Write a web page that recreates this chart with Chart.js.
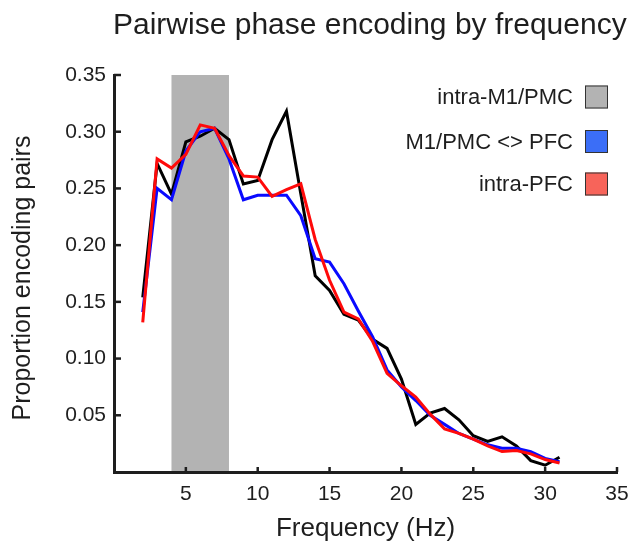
<!DOCTYPE html>
<html>
<head>
<meta charset="utf-8">
<script src="https://cdn.jsdelivr.net/npm/chart.js@4.4.1/dist/chart.umd.min.js"></script>
<style>
html,body{margin:0;padding:0;background:#fff;}
#c{display:block;}
</style>
</head>
<body>
<canvas id="c" width="639" height="542"></canvas>
<script>
// ---- data ----
const frequencies = [2,3,4,5,6,7,8,9,10,11,12,13,14,15,16,17,18,19,20,21,22,23,24,25,26,27,28,29,30,31];
const intraM1PMC = [0.154,0.272,0.245,0.291,0.296,0.303,0.293,0.254,0.257,0.293,0.318,0.245,0.173,0.160,0.139,0.134,0.117,0.109,0.082,0.042,0.052,0.056,0.046,0.032,0.027,0.031,0.023,0.010,0.006,0.013];
const crossArea  = [0.141,0.250,0.240,0.283,0.300,0.303,0.276,0.240,0.244,0.244,0.244,0.226,0.188,0.185,0.166,0.142,0.119,0.090,0.075,0.063,0.050,0.042,0.034,0.029,0.024,0.021,0.021,0.018,0.012,0.009];
const intraPFC   = [0.132,0.276,0.268,0.280,0.306,0.303,0.279,0.261,0.260,0.243,0.249,0.254,0.205,0.169,0.141,0.135,0.115,0.087,0.076,0.066,0.051,0.038,0.034,0.029,0.023,0.018,0.019,0.016,0.011,0.008];
const thetaBand  = [4, 8];
const xTickValues = [5,10,15,20,25,30,35];
const yTickValues = [0.05,0.10,0.15,0.20,0.25,0.30,0.35];
const seriesNames = ['intra-M1/PMC','M1/PMC <> PFC','intra-PFC'];
const lineColors  = ['#000000','#0a0aff','#ff0a0a'];
const legendColors= ['#b3b3b3','#3b6ef7','#f7645a'];
const titleText = 'Pairwise phase encoding by frequency';
const xTitle = 'Frequency (Hz)';
const yTitle = 'Proportion encoding pairs';

const FONT = '"Liberation Sans", Arial, Helvetica, sans-serif';
const INK = '#1e1e1e';

function pts(vals){ return frequencies.map((f,i)=>({x:f,y:vals[i]})); }

const decor = {
  id:'decor',
  beforeDraw(chart){
    const {ctx, scales:{x,y}} = chart;
    ctx.save();
    ctx.fillStyle = '#b3b3b3';
    const x0 = x.getPixelForValue(thetaBand[0]), x1 = x.getPixelForValue(thetaBand[1]);
    const yt = y.getPixelForValue(y.max), yb = y.getPixelForValue(0);
    ctx.fillRect(x0, yt, x1-x0, yb-yt);
    ctx.restore();
  },
  afterDraw(chart){
    const {ctx, scales:{x,y}, chartArea:a} = chart;
    ctx.save();
    // inward ticks
    ctx.strokeStyle = INK; ctx.lineWidth = 2.5; ctx.lineCap='butt';
    yTickValues.forEach(v=>{
      const py = y.getPixelForValue(v);
      ctx.beginPath(); ctx.moveTo(a.left, py); ctx.lineTo(a.left+7, py); ctx.stroke();
    });
    xTickValues.forEach(v=>{
      const px = x.getPixelForValue(v);
      ctx.beginPath(); ctx.moveTo(px, a.bottom); ctx.lineTo(px, a.bottom-5); ctx.stroke();
    });
    // title
    ctx.fillStyle = INK;
    ctx.font = '30px ' + FONT;
    ctx.textAlign = 'left'; ctx.textBaseline = 'alphabetic';
    ctx.fillText(titleText, 113, 34);
    // x title
    ctx.font = '26px ' + FONT;
    ctx.textAlign = 'center';
    ctx.fillText(xTitle, (a.left+a.right)/2, 536);
    // y title
    ctx.save();
    ctx.translate(30, 278);
    ctx.rotate(-Math.PI/2);
    ctx.font = '25px ' + FONT;
    ctx.textAlign = 'center';
    ctx.fillText(yTitle, 0, 0);
    ctx.restore();
    // legend
    const centers = [97, 141.5, 184];
    ctx.font = '22px ' + FONT;
    ctx.textAlign = 'right'; ctx.textBaseline = 'middle';
    seriesNames.forEach((n,i)=>{
      ctx.fillStyle = INK;
      ctx.fillText(n, 573, centers[i]+1);
      ctx.fillStyle = legendColors[i];
      ctx.fillRect(585, centers[i]-11.5, 23, 23);
      ctx.strokeStyle = '#333'; ctx.lineWidth = 1;
      ctx.strokeRect(585.5, centers[i]-11, 22, 22);
    });
    ctx.restore();
  }
};

new Chart(document.getElementById('c'), {
  type:'line',
  data:{
    datasets:[
      {label:seriesNames[0], data:pts(intraM1PMC), borderColor:lineColors[0], order:3},
      {label:seriesNames[1], data:pts(crossArea),  borderColor:lineColors[1], order:2},
      {label:seriesNames[2], data:pts(intraPFC),   borderColor:lineColors[2], order:1}
    ]
  },
  options:{
    responsive:false,
    animation:false,
    devicePixelRatio:1,
    layout:{padding:{top:75, right:22, left:0, bottom:0}},
    elements:{
      line:{borderWidth:3, tension:0, fill:false, borderJoinStyle:'miter'},
      point:{radius:0, hoverRadius:0}
    },
    plugins:{legend:{display:false}, title:{display:false}, tooltip:{enabled:false}},
    scales:{
      x:{
        type:'linear', min:0, max:35,
        afterFit(s){ s.height = 70; },
        afterBuildTicks(s){ s.ticks = xTickValues.map(v=>({value:v})); },
        grid:{display:true, drawOnChartArea:false, drawTicks:false},
        border:{display:true, width:3, color:INK},
        ticks:{padding:10, color:INK, font:{family:FONT, size:21}, maxRotation:0, autoSkip:false,
               callback:v=>String(v)}
      },
      y:{
        type:'linear', min:0, max:0.35,
        afterFit(s){ s.width = 114; },
        afterBuildTicks(s){ s.ticks = yTickValues.map(v=>({value:v})); },
        grid:{display:true, drawOnChartArea:false, drawTicks:false},
        border:{display:true, width:3, color:INK},
        ticks:{padding:8, color:INK, font:{family:FONT, size:21}, autoSkip:false,
               callback:v=>Number(v).toFixed(2)}
      }
    }
  },
  plugins:[decor]
});
</script>
</body>
</html>
